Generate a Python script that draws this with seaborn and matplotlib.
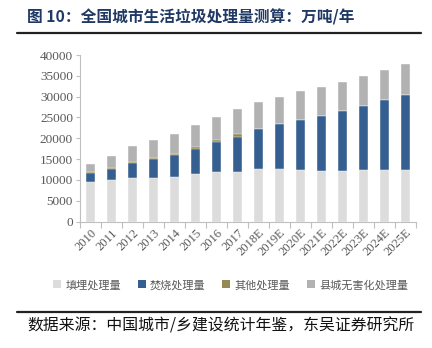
import numpy as np
import pandas as pd
import matplotlib
matplotlib.use("Agg")
import matplotlib.pyplot as plt
import seaborn as sns
from matplotlib.patches import Patch
from matplotlib.lines import Line2D

years = ["2010", "2011", "2012", "2013", "2014", "2015", "2016", "2017",
         "2018E", "2019E", "2020E", "2021E", "2022E", "2023E", "2024E", "2025E"]
landfill = [9500, 10000, 10400, 10400, 10600, 11400, 11800, 12000,
            12600, 12700, 12400, 12200, 12200, 12300, 12300, 12300]
incineration = [2200, 2500, 3600, 4600, 5400, 6000, 7300, 8400,
                9600, 10700, 12100, 13100, 14300, 15500, 16900, 18200]
other = [300, 300, 300, 300, 300, 500, 500, 600,
         100, 0, 0, 0, 0, 0, 0, 0]
county = [1800, 2900, 3800, 4300, 4700, 5300, 5600, 6100,
          6300, 6600, 6800, 6900, 7000, 7100, 7200, 7400]
series_names = ["填埋处理量", "焚烧处理量", "其他处理量", "县城无害化处理量"]
colors = ["#dcdcdc", "#365f91", "#948a54", "#b2b2b2"]

sns.set_style("white")
plt.rcParams['font.family'] = ['Noto Sans CJK SC', 'DejaVu Sans']

fig = plt.figure(figsize=(4.32, 3.48), dpi=100)
ax = fig.add_axes([80/432, 1-221.5/348, (416-80)/432, (221.5-55)/348])

layers = [landfill, incineration, other, county]
cum = np.cumsum(np.array(layers, dtype=float), axis=0)
df = pd.DataFrame({"year": years})
for i in range(3, -1, -1):
    df["v"] = cum[i]
    sns.barplot(data=df, x="year", y="v", color=colors[i], width=0.45,
                saturation=1, ax=ax, edgecolor="white", linewidth=0.3,
                errorbar=None)

ax.set_ylim(0, 40000)
ax.set_xlim(-0.5, len(years) - 0.5)
ax.set_yticks(range(0, 40001, 5000))
ax.set_xlabel("")
ax.set_ylabel("")
serif = "Liberation Serif"
ax.set_yticklabels([str(v) for v in range(0, 40001, 5000)],
                   fontfamily=serif, fontsize=9.5, color="#595959")
ax.set_xticks(range(len(years)))
ax.set_xticklabels(years, rotation=45, ha="right", rotation_mode="anchor",
                   fontfamily=serif, fontsize=9, color="#595959")
ax.tick_params(axis="y", length=3, color="#bfbfbf", width=0.8, pad=2, left=True)
ax.tick_params(axis="x", length=0, pad=4, bottom=True)
# minor ticks between categories
ax.set_xticks(np.arange(-0.5, len(years), 1), minor=True)
ax.tick_params(axis="x", which="minor", length=4, color="#bfbfbf", width=0.8, bottom=True)
for s in ["top", "right"]:
    ax.spines[s].set_visible(False)
for s in ["left", "bottom"]:
    ax.spines[s].set_color("#bfbfbf")
    ax.spines[s].set_linewidth(0.8)

handles = [Patch(facecolor=c, edgecolor="none") for c in colors]
fig.legend(handles, series_names, loc="center", bbox_to_anchor=(0.534, 1-285/348),
           ncol=4, frameon=False, fontsize=8, handlelength=0.7, handleheight=0.7,
           handletextpad=0.4, columnspacing=1.5, labelcolor="#595959")

fig.text(27/432, 1-17/348, "图 10：全国城市生活垃圾处理量测算：万吨/年", fontsize=11.3,
         fontweight="bold", color="#1f3864", va="center", ha="left")
fig.add_artist(Line2D([17/432, 421/432], [1-33/348, 1-33/348], color="#222222", lw=1.6))
fig.add_artist(Line2D([17/432, 421/432], [1-312/348, 1-312/348], color="#222222", lw=1.6))
fig.text(27/432, 1-326/348, "数据来源：中国城市/乡建设统计年鉴，东吴证券研究所", fontsize=11.4,
         color="#111111", va="center", ha="left")

fig.savefig("out.png", dpi=100)
